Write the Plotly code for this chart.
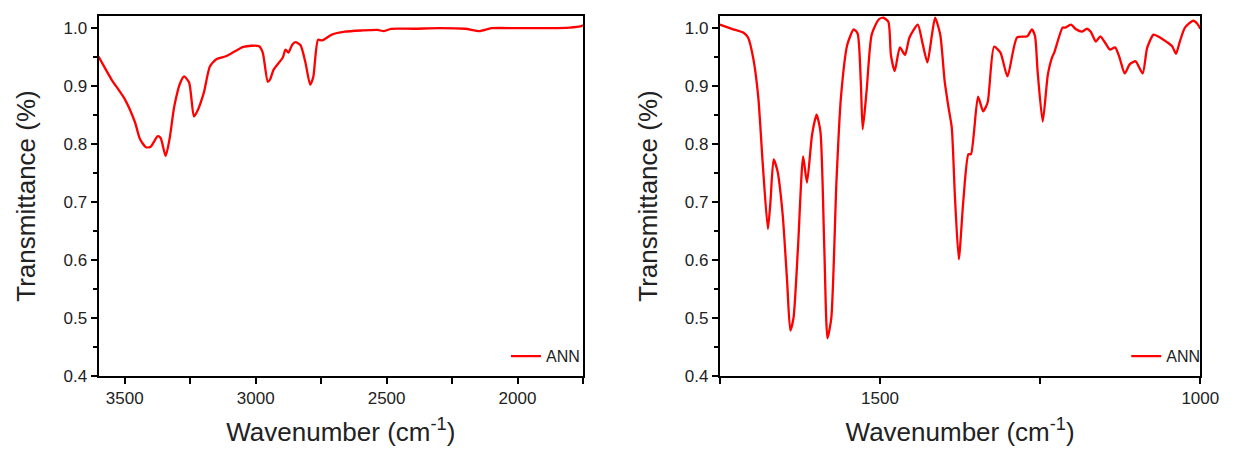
import plotly.graph_objects as go

# Left panel: 3600-1750 cm-1
wn_left = [3600, 3551, 3499, 3461, 3442, 3419, 3401, 3374, 3363, 3344, 3329, 3311, 3288, 3273,
           3254, 3236, 3224, 3198, 3175, 3149, 3111, 3047, 2987, 2973, 2954, 2946, 2931, 2897,
           2886, 2875, 2860, 2848, 2829, 2810, 2792, 2780, 2762, 2746, 2709, 2660, 2596, 2535,
           2510, 2483, 2397, 2300, 2200, 2145, 2100, 2000, 1900, 1800, 1760, 1750]
tr_left = [0.950, 0.911, 0.876, 0.837, 0.808, 0.794, 0.795, 0.813, 0.810, 0.779, 0.808, 0.864,
           0.905, 0.916, 0.905, 0.847, 0.855, 0.888, 0.933, 0.946, 0.951, 0.967, 0.968, 0.957,
           0.907, 0.910, 0.928, 0.948, 0.962, 0.957, 0.971, 0.975, 0.970, 0.940, 0.902, 0.915,
           0.979, 0.978, 0.988, 0.993, 0.995, 0.996, 0.994, 0.998, 0.998, 0.999, 0.998, 0.994,
           0.999, 0.999, 0.999, 1.000, 1.002, 1.004]

# Right panel: 1750-1000 cm-1
wn_right = [1750, 1729, 1713, 1706, 1698, 1690, 1683, 1675, 1671, 1666, 1660, 1652, 1645, 1640,
            1635, 1628, 1620, 1614, 1606, 1599, 1593, 1587, 1582, 1576, 1568, 1561, 1551, 1541,
            1535, 1530, 1527, 1521, 1513, 1502, 1495, 1487, 1483, 1477, 1469, 1461, 1454, 1441,
            1434, 1426, 1419, 1414, 1406, 1399, 1393, 1388, 1383, 1377, 1370, 1362, 1358, 1347,
            1339, 1332, 1322, 1312, 1301, 1286, 1270, 1263, 1258, 1254, 1246, 1238, 1231, 1228,
            1215, 1211, 1202, 1194, 1185, 1177, 1171, 1163, 1156, 1148, 1141, 1133, 1126, 1118,
            1110, 1101, 1090, 1083, 1073, 1063, 1052, 1044, 1038, 1032, 1024, 1011, 1005, 1000]
tr_right = [1.005, 0.997, 0.991, 0.983, 0.948, 0.880, 0.765, 0.653, 0.700, 0.773, 0.753, 0.679,
            0.563, 0.478, 0.500, 0.622, 0.778, 0.733, 0.816, 0.850, 0.821, 0.622, 0.465, 0.500,
            0.735, 0.880, 0.971, 0.997, 0.990, 0.907, 0.825, 0.890, 0.988, 1.014, 1.017, 1.010,
            0.953, 0.925, 0.966, 0.953, 0.983, 1.005, 0.975, 0.940, 0.987, 1.017, 0.988, 0.907,
            0.862, 0.828, 0.708, 0.601, 0.701, 0.782, 0.782, 0.881, 0.856, 0.871, 0.967, 0.957,
            0.916, 0.983, 0.985, 0.997, 0.985, 0.925, 0.838, 0.919, 0.950, 0.957, 1.000, 1.000,
            1.005, 0.997, 0.993, 0.998, 0.993, 0.976, 0.985, 0.973, 0.962, 0.966, 0.948, 0.921,
            0.937, 0.942, 0.921, 0.965, 0.988, 0.983, 0.975, 0.968, 0.955, 0.976, 1.000, 1.012,
            1.007, 0.998]

y_ticks = [0.4, 0.5, 0.6, 0.7, 0.8, 0.9, 1.0]
y_ticklabels = ["0.4", "0.5", "0.6", "0.7", "0.8", "0.9", "1.0"]
x_ticks_left = [3500, 3000, 2500, 2000]
x_ticks_right = [1500, 1000]
series_name = "ANN"

RED = "#ff0000"
FONT = "Liberation Sans, Arial, sans-serif"
TXT = "#222222"

# figure sits inside the page body (8px default margin), so size it to fit the window
W, H = 1232, 439
OFF = 8

def fx(px):  # page pixel -> paper fraction
    return (px - OFF) / W

fig = go.Figure()
fig.add_trace(go.Scatter(x=wn_left, y=tr_left, mode="lines", name=series_name, showlegend=True,
                         line=dict(color=RED, width=2.3, shape="spline", smoothing=0.6),
                         xaxis="x", yaxis="y", legend="legend"))
fig.add_trace(go.Scatter(x=wn_right, y=tr_right, mode="lines", name=series_name, showlegend=True,
                         line=dict(color=RED, width=2.3, shape="spline", smoothing=0.6),
                         xaxis="x2", yaxis="y2", legend="legend2"))

def xaxis(dom, rng, ticks, minor, anchor):
    return dict(domain=dom, range=rng, anchor=anchor, tickmode="array", tickvals=ticks,
                ticktext=[str(t) for t in ticks], ticks="outside", ticklen=6, tickwidth=2,
                tickcolor="black", showline=True, linecolor="black", linewidth=2, mirror=True,
                showgrid=False, zeroline=False,
                minor=dict(tickvals=minor, ticks="outside", ticklen=6, tickwidth=2, tickcolor="black"),
                tickfont=dict(family=FONT, size=17, color=TXT),
                title=dict(text="Wavenumber (cm<sup>-1</sup>)", font=dict(family=FONT, size=26, color=TXT),
                           standoff=20))

def yaxis(anchor):
    return dict(domain=[0, 1], range=[0.4, 1.02], anchor=anchor, tickmode="array",
                tickvals=y_ticks, ticktext=y_ticklabels, ticks="outside", ticklen=6, tickwidth=2,
                tickcolor="black", showline=True, linecolor="black", linewidth=2, mirror=True,
                showgrid=False, zeroline=False,
                minor=dict(dtick=0.05, tick0=0.4, ticks="outside", ticklen=4, tickwidth=2, tickcolor="black"),
                tickfont=dict(family=FONT, size=17, color=TXT),
                title=dict(text="Transmittance (%)", font=dict(family=FONT, size=26, color=TXT),
                           standoff=20))

fig.update_layout(
    width=W, height=H,
    showlegend=True,
    paper_bgcolor="white", plot_bgcolor="white",
    margin=dict(l=0, r=0, t=16 - OFF, b=H - (377 - OFF)),
    xaxis=xaxis([fx(100), fx(592)], [3600, 1750], x_ticks_left, [3250, 2750, 2250, 1750], "y"),
    yaxis=yaxis("x"),
    xaxis2=xaxis([fx(731), fx(1219)], [1750, 1000], x_ticks_right, [1750, 1250], "y2"),
    yaxis2=yaxis("x2"),
    legend=dict(x=fx(594), y=0.055, xanchor="right", yanchor="middle", bgcolor="rgba(0,0,0,0)",
                font=dict(family=FONT, size=16, color=TXT)),
    legend2=dict(x=fx(1224), y=0.055, xanchor="right", yanchor="middle", bgcolor="rgba(0,0,0,0)",
                 font=dict(family=FONT, size=16, color=TXT)),
)

fig.write_html("out.html", config={"displayModeBar": False})
